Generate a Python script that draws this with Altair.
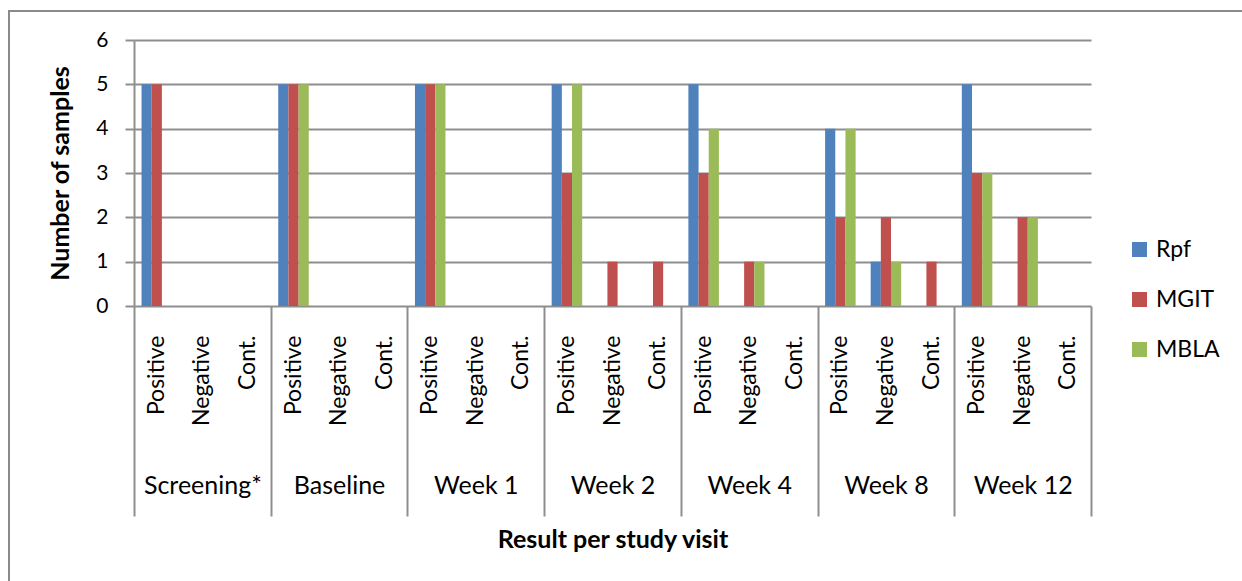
import altair as alt
import pandas as pd

# Study visits, result categories and the three culture methods
visits = ["Screening*", "Baseline", "Week 1", "Week 2", "Week 4", "Week 8", "Week 12"]
results = ["Positive", "Negative", "Cont."]
series = ["Rpf", "MGIT", "MBLA"]
colors = ["#4F81BD", "#C0504D", "#9BBB59"]

# Number of samples per visit, ordered Positive / Negative / Cont. within each visit
rpf = [5, 0, 0, 5, 0, 0, 5, 0, 0, 5, 0, 0, 5, 0, 0, 4, 1, 0, 5, 0, 0]
mgit = [5, 0, 0, 5, 0, 0, 5, 0, 0, 3, 1, 1, 3, 1, 0, 2, 2, 1, 3, 2, 0]
mbla = [0, 0, 0, 5, 0, 0, 5, 0, 0, 5, 0, 0, 4, 1, 0, 4, 1, 0, 3, 2, 0]

keys = [f"{v}|{r}" for v in visits for r in results]
rows = []
for name, vals in zip(series, [rpf, mgit, mbla]):
    for k, val in zip(keys, vals):
        rows.append({"key": k, "series": name, "count": val})
df = pd.DataFrame(rows)
groups = pd.DataFrame({"visit": visits})

FONT = "Lato"
GRID = "#8e8e8e"
W, H = 957, 266

bars = alt.Chart(df).mark_bar().encode(
    x=alt.X(
        "key:N",
        sort=keys,
        scale=alt.Scale(paddingInner=0, paddingOuter=0),
        axis=alt.Axis(
            title=None,
            labelExpr="split(datum.label, '|')[1]",
            labelAngle=-90,
            labelAlign="right",
            labelBaseline="middle",
            labelPadding=29,
            labelFont=FONT,
            labelFontSize=23,
            labelColor="#000000",
            ticks=False,
            domain=False,
            grid=False,
            labelOverlap=False,
        ),
    ),
    xOffset=alt.XOffset(
        "series:N", sort=series, scale=alt.Scale(paddingInner=0, paddingOuter=0.74)
    ),
    y=alt.Y(
        "count:Q",
        scale=alt.Scale(domain=[0, 6], nice=False),
        axis=alt.Axis(
            title="Number of samples",
            values=[0, 1, 2, 3, 4, 5, 6],
            format="d",
            grid=True,
            gridColor=GRID,
            gridWidth=2,
            domain=True,
            domainColor=GRID,
            domainWidth=2,
            ticks=True,
            tickColor=GRID,
            tickWidth=2,
            tickSize=9,
            labelFont=FONT,
            labelFontSize=21,
            labelColor="#000000",
            labelPadding=17,
            titleFont=FONT,
            titleFontSize=25,
            titleFontWeight="bold",
            titleColor="#000000",
            titlePadding=22,
        ),
    ),
    color=alt.Color(
        "series:N",
        sort=series,
        scale=alt.Scale(domain=series, range=colors),
        legend=alt.Legend(
            title=None,
            orient="none",
            legendX=994,
            legendY=198,
            padding=0,
            symbolType="square",
            symbolSize=225,
            symbolStrokeWidth=0,
            labelFont=FONT,
            labelFontSize=23,
            labelColor="#000000",
            labelOffset=5,
            rowPadding=26,
        ),
    ),
)

# Visit-level band: tick lines at band edges split the visits, labels sit under the results
visit_axis = alt.Chart(groups).mark_point(opacity=0).encode(
    x=alt.X(
        "visit:N",
        sort=visits,
        scale=alt.Scale(paddingInner=0, paddingOuter=0),
        axis=alt.Axis(
            orient="bottom",
            title="Result per study visit",
            titleFont=FONT,
            titleFontSize=25,
            titleFontWeight="bold",
            titleColor="#000000",
            titlePadding=21,
            labelAngle=0,
            labelFont=FONT,
            labelFontSize=25,
            labelColor="#000000",
            labelBaseline="middle",
            labelPadding=-31,
            labelFlush=False,
            labelOverlap=False,
            tickBand="extent",
            tickSize=210,
            tickColor=GRID,
            tickWidth=2,
            domain=False,
            grid=False,
        ),
    ),
    y=alt.value(0),
)

# Chart frame
frame = alt.Chart(alt.Data(values=[{"f": 1}])).mark_rect(
    fill=None, stroke="#8a8a8a", strokeWidth=2
).encode(
    x=alt.value(-125), x2=alt.value(1300), y=alt.value(-29), y2=alt.value(700)
)

chart = (
    alt.layer(frame, bars, visit_axis)
    .resolve_scale(x="independent")
    .properties(
        width=W,
        height=H,
        autosize=alt.AutoSizeParams(type="none"),
        padding={"left": 134, "top": 40, "right": 151, "bottom": 275},
        background="#ffffff",
    )
    .configure_view(stroke=None)
)

chart.save("out.html", embed_options={"renderer": "svg", "actions": False})
